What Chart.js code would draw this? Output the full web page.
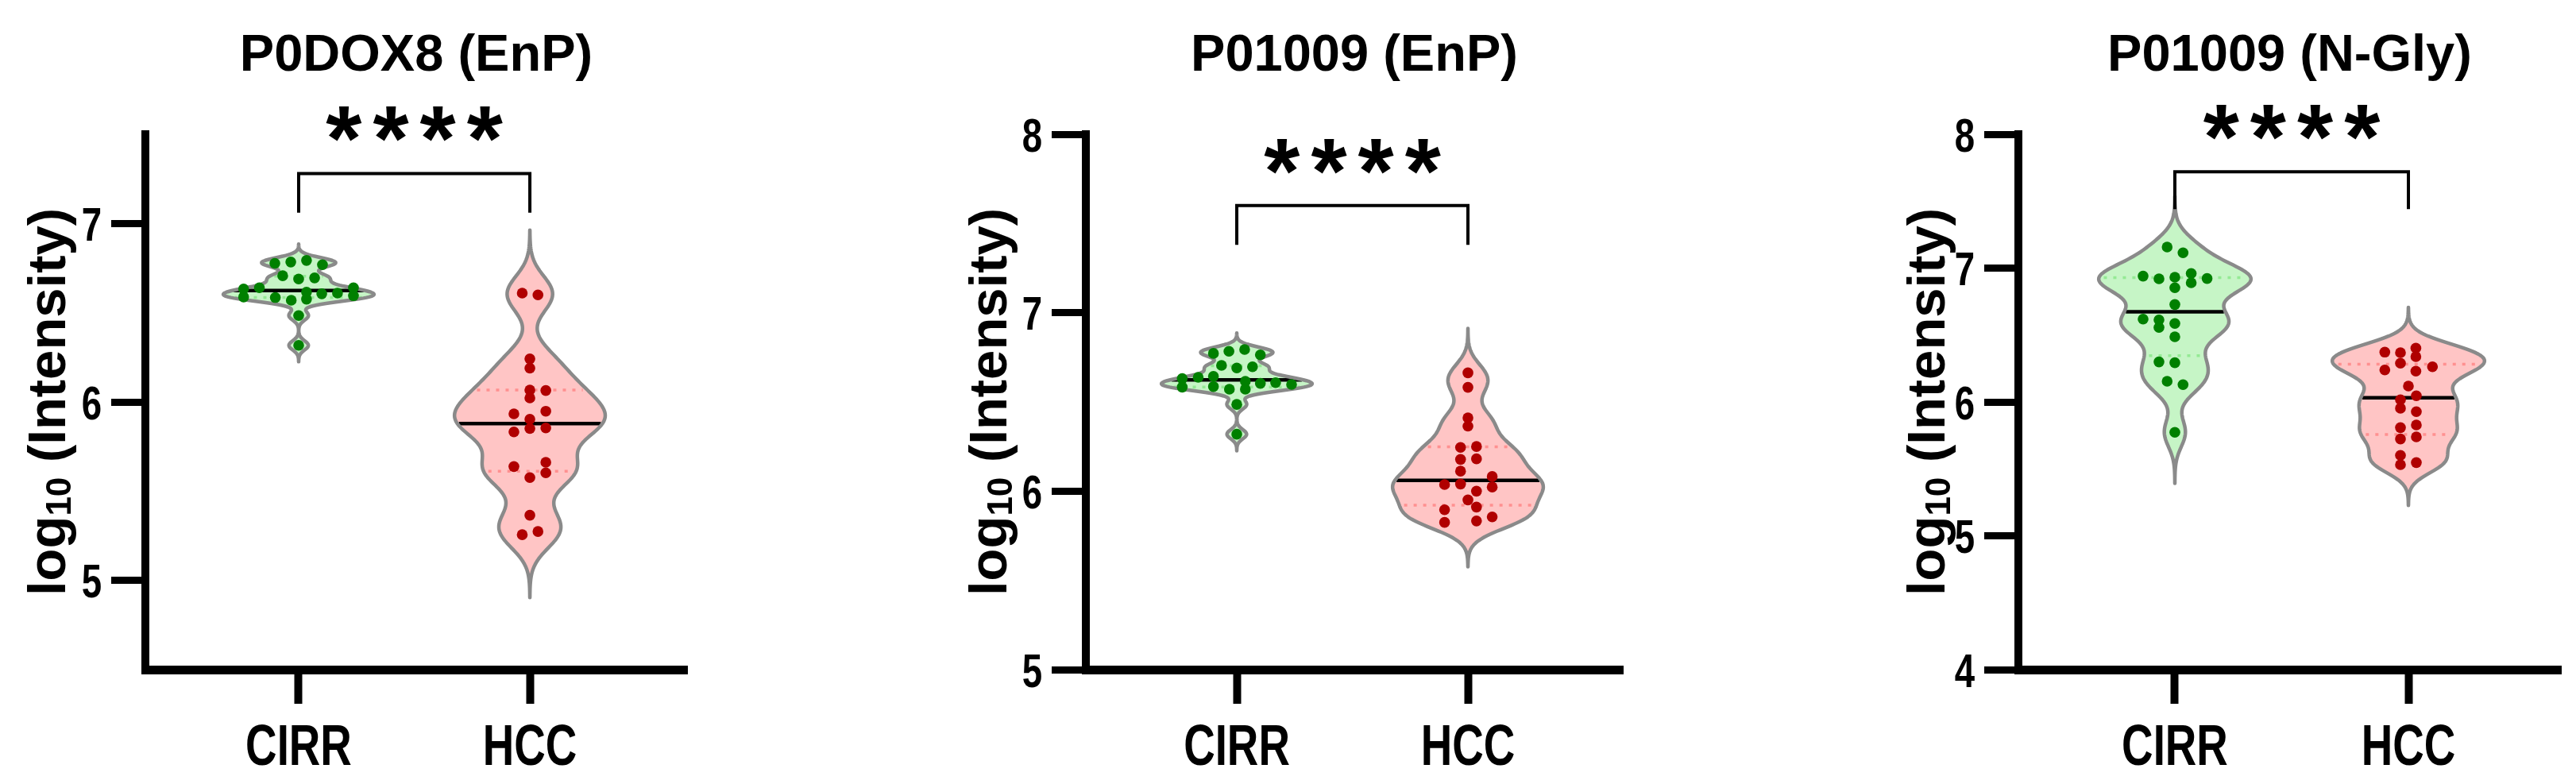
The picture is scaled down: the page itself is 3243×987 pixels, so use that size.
<!DOCTYPE html>
<html>
<head>
<meta charset="utf-8">
<script src="https://cdn.jsdelivr.net/npm/chart.js@4.4.1/dist/chart.umd.min.js"></script>
<style>
  html, body { margin: 0; padding: 0; background: #fff; }
  #wrap { position: relative; width: 3243px; height: 987px; }
  #wrap canvas { position: absolute; top: 0; }
</style>
</head>
<body>
<div id="wrap">
  <canvas id="c1" width="1081" height="987" style="left:0px"></canvas>
  <canvas id="c2" width="1081" height="987" style="left:1081px"></canvas>
  <canvas id="c3" width="1081" height="987" style="left:2162px"></canvas>
</div>
<script>
// categories + panel text
const groups = ['CIRR', 'HCC'];
const titles = ['P0DOX8 (EnP)', 'P01009 (EnP)', 'P01009 (N-Gly)'];
const stars = ['****', '****', '****'];

// y axes
const yRanges = [[4.5, 7.5], [5, 8], [4, 8]];
const yTicks = [[5, 6, 7], [5, 6, 7, 8], [4, 5, 6, 7, 8]];

// significance bracket levels (log10 units): bar, end of legs
const bracketTop = [7.28, 7.60, 7.72];
const bracketLeg = [7.06, 7.38, 7.44];

// log10 intensities, with the horizontal spread of each dot (x units)
const cirr1 = [6.777, 6.784, 6.793, 6.769, 6.707, 6.689, 6.695, 6.633, 6.588, 6.640, 6.585, 6.570, 6.615, 6.576, 6.606, 6.610, 6.640, 6.595, 6.484, 6.317];
const cirr1Jit = [-0.103, -0.034, 0.034, 0.103, -0.069, 0, 0.069, -0.238, -0.238, -0.170, -0.101, -0.032, 0.034, 0.034, 0.100, 0.168, 0.237, 0.237, 0, 0];
const hcc1 = [6.610, 6.600, 6.241, 6.189, 6.067, 6.022, 6.064, 5.933, 5.948, 5.903, 5.832, 5.851, 5.854, 5.638, 5.662, 5.603, 5.576, 5.365, 5.256, 5.274];
const hcc1Jit = [-0.033, 0.035, 0, 0, 0, 0, 0.069, -0.069, 0.069, 0, -0.069, 0, 0.069, -0.069, 0.069, 0.069, 0, 0, -0.033, 0.035];

const cirr2 = [6.772, 6.784, 6.794, 6.764, 6.705, 6.690, 6.697, 6.631, 6.583, 6.638, 6.643, 6.586, 6.571, 6.616, 6.571, 6.604, 6.608, 6.598, 6.486, 6.319];
const cirr2Jit = [-0.101, -0.034, 0.034, 0.102, -0.066, 0, 0.068, -0.236, -0.236, -0.167, -0.101, -0.101, -0.032, 0.037, 0.037, 0.102, 0.168, 0.237, 0, 0];
const hcc2 = [6.663, 6.582, 6.411, 6.364, 6.245, 6.250, 6.178, 6.181, 6.112, 6.037, 6.040, 6.082, 6.023, 6.000, 5.951, 5.911, 5.896, 5.825, 5.833, 5.856];
const hcc2Jit = [0, 0, 0, 0, -0.032, 0.037, -0.032, 0.037, -0.032, -0.101, -0.032, 0.105, 0.105, 0.037, 0, 0.037, -0.101, -0.101, 0.037, 0.105];

const cirr3 = [7.157, 7.114, 6.940, 6.920, 6.932, 6.853, 6.960, 6.890, 6.922, 6.728, 6.619, 6.613, 6.556, 6.586, 6.487, 6.299, 6.293, 6.154, 6.129, 5.773];
const cirr3Jit = [-0.033, 0.035, -0.136, -0.068, 0, 0, 0.070, 0.070, 0.138, 0, -0.136, -0.068, -0.068, 0, 0, -0.068, 0, -0.033, 0.035, 0];
const hcc3 = [6.372, 6.368, 6.402, 6.338, 6.289, 6.239, 6.230, 6.263, 6.119, 6.016, 6.046, 5.953, 5.927, 5.808, 5.828, 5.723, 5.739, 5.601, 5.531, 5.547];
const hcc3Jit = [-0.101, -0.034, 0.032, 0.032, -0.034, -0.101, 0.032, 0.103, 0, -0.034, 0.034, -0.034, 0.034, -0.034, 0.034, -0.034, 0.034, -0.034, -0.034, 0.034];

// colours
const green = '#008000', greenFill = '#c6f5c6', greenQ = '#94ea94';
const red = '#b00000', redFill = '#ffc5c5', redQ = '#ff9090';

// layout of each panel inside its canvas
const layout = [
  { yWidth: 183, padRight: 216, xMin: 0.337, xMax: 2.68, labelOff: 101 },
  { yWidth: 286, padRight: 119, xMin: 0.347, xMax: 2.67, labelOff: 100 },
  { yWidth: 379, padRight: 19, xMin: 0.33, xMax: 2.653, labelOff: 93 }
];

const SANS = '"Liberation Sans", Arial, sans-serif';
const SQUEEZE = 0.76; // tick labels are set in a condensed face
const VIOLIN_HALF = 0.326; // widest part of each violin, x units

function quantile(sorted, p) {
  const n = sorted.length;
  const r = Math.min(Math.max(p * (n + 1) - 1, 0), n - 1);
  const lo = Math.floor(r), f = r - lo;
  return sorted[lo] + f * ((sorted[Math.min(lo + 1, n - 1)]) - sorted[lo]);
}

function drawViolin(ctx, xs, ys, pos, vals, fill, qColor) {
  const n = vals.length;
  const sorted = vals.slice().sort((a, b) => a - b);
  const mean = vals.reduce((a, b) => a + b, 0) / n;
  const sd = Math.sqrt(vals.reduce((a, v) => a + (v - mean) ** 2, 0) / (n - 1));
  const q1 = quantile(sorted, 0.25), med = quantile(sorted, 0.5), q3 = quantile(sorted, 0.75);
  // kernel density, a bit tighter than Silverman's rule
  const h = 0.6 * 0.9 * Math.min(sd, (q3 - q1) / 1.34) * Math.pow(n, -0.2);
  const dens = y => vals.reduce((a, v) => a + Math.exp(-0.5 * ((y - v) / h) ** 2), 0);
  const lo = sorted[0] - 3.5 * h, hi = sorted[n - 1] + 3.5 * h;
  const steps = 200;
  const pts = [];
  let maxD = 0;
  for (let i = 0; i <= steps; i++) {
    const y = lo + (hi - lo) * i / steps;
    const d = dens(y);
    pts.push([y, d]);
    if (d > maxD) maxD = d;
  }
  const cx = xs.getPixelForValue(pos);
  const wPx = xs.getPixelForValue(pos + VIOLIN_HALF) - cx;
  const hw = y => dens(y) / maxD * wPx;

  const outline = () => {
    ctx.beginPath();
    pts.forEach(([y, d], i) => {
      const px = cx + d / maxD * wPx, py = ys.getPixelForValue(y);
      if (i) ctx.lineTo(px, py); else ctx.moveTo(px, py);
    });
    for (let i = pts.length - 1; i >= 0; i--) {
      const [y, d] = pts[i];
      ctx.lineTo(cx - d / maxD * wPx, ys.getPixelForValue(y));
    }
    ctx.closePath();
  };

  ctx.save();
  outline();
  ctx.fillStyle = fill;
  ctx.fill();

  // quartiles
  ctx.setLineDash([4, 8]);
  ctx.lineWidth = 3.5;
  ctx.strokeStyle = qColor;
  [q1, q3].forEach(v => {
    const w = hw(v) - 6, py = ys.getPixelForValue(v);
    ctx.beginPath();
    ctx.moveTo(cx - w, py);
    ctx.lineTo(cx + w, py);
    ctx.stroke();
  });
  ctx.setLineDash([]);

  // median
  const mw = hw(med) - 2, my = ys.getPixelForValue(med);
  ctx.lineWidth = 4.5;
  ctx.strokeStyle = '#000';
  ctx.beginPath();
  ctx.moveTo(cx - mw, my);
  ctx.lineTo(cx + mw, my);
  ctx.stroke();

  outline();
  ctx.lineWidth = 4.5;
  ctx.lineJoin = 'round';
  ctx.strokeStyle = '#8a8a8a';
  ctx.stroke();
  ctx.restore();
}

// condensed text: squeeze horizontally around the anchor
function squeezedText(ctx, text, x, y, align) {
  ctx.save();
  ctx.translate(x, y);
  ctx.scale(SQUEEZE, 1);
  ctx.textAlign = align;
  ctx.fillText(text, 0, 0);
  ctx.restore();
}

const violinPlugin = {
  id: 'violins',
  beforeDatasetsDraw(chart) {
    const o = chart.options.plugins.violins;
    const xs = chart.scales.x, ys = chart.scales.y;
    o.sets.forEach((s, i) => drawViolin(chart.ctx, xs, ys, i + 1, s.values, s.fill, s.quart));
  },
  afterDraw(chart) {
    const o = chart.options.plugins.violins;
    const ctx = chart.ctx, area = chart.chartArea;
    const xs = chart.scales.x, ys = chart.scales.y;
    const midX = (area.left + area.right) / 2;
    ctx.save();
    ctx.fillStyle = '#000';
    ctx.textBaseline = 'alphabetic';

    // tick labels
    ctx.font = 'bold 60px ' + SANS;
    ys.ticks.forEach(t => {
      squeezedText(ctx, String(t.value), area.left - 43 - 12, ys.getPixelForValue(t.value) + 21.5, 'right');
    });
    ctx.font = 'bold 72px ' + SANS;
    xs.ticks.forEach((t, i) => {
      squeezedText(ctx, groups[i], xs.getPixelForValue(t.value), 963, 'center');
    });

    // title
    ctx.font = 'bold 65px ' + SANS;
    ctx.textAlign = 'center';
    ctx.fillText(o.title, midX, 89);

    // y axis title with subscript
    const big = 'bold 67px ' + SANS, small = 'bold 44px ' + SANS;
    const parts = [['log', big, 0], ['10', small, 7], [' (Intensity)', big, 0]];
    let total = 0;
    parts.forEach(p => { ctx.font = p[1]; p.push(ctx.measureText(p[0]).width); total += p[3]; });
    ctx.save();
    ctx.translate(area.left - o.labelOff, (area.top + area.bottom) / 2);
    ctx.rotate(-Math.PI / 2);
    ctx.textAlign = 'left';
    let x = -total / 2;
    parts.forEach(p => { ctx.font = p[1]; ctx.fillText(p[0], x, p[2]); x += p[3]; });
    ctx.restore();

    // bracket
    const x1 = xs.getPixelForValue(1), x2 = xs.getPixelForValue(2);
    const yb = ys.getPixelForValue(o.bracket[0]), yl = ys.getPixelForValue(o.bracket[1]);
    ctx.strokeStyle = '#000';
    ctx.lineWidth = 4;
    ctx.lineJoin = 'miter';
    ctx.beginPath();
    ctx.moveTo(x1, yl);
    ctx.lineTo(x1, yb);
    ctx.lineTo(x2, yb);
    ctx.lineTo(x2, yl);
    ctx.stroke();

    // stars
    ctx.font = 'bold 116px ' + SANS;
    ctx.textAlign = 'center';
    if ('letterSpacing' in ctx) ctx.letterSpacing = '14px';
    const m = ctx.measureText(o.stars);
    const glyphMid = (m.actualBoundingBoxAscent - m.actualBoundingBoxDescent) / 2;
    ctx.fillText(o.stars, (x1 + x2) / 2 + 7, yb - 62 + glyphMid);
    ctx.restore();
  }
};

function makePanel(id, idx, cirr, cirrJit, hcc, hccJit) {
  const L = layout[idx];
  const ticksY = yTicks[idx];
  const pts = (vals, jit, pos) => vals.map((v, i) => ({ x: pos + jit[i], y: v }));
  return new Chart(document.getElementById(id), {
    type: 'scatter',
    data: {
      datasets: [
        { label: groups[0], data: pts(cirr, cirrJit, 1), backgroundColor: green, pointRadius: 6.8, borderWidth: 0 },
        { label: groups[1], data: pts(hcc, hccJit, 2), backgroundColor: red, pointRadius: 6.8, borderWidth: 0 }
      ]
    },
    options: {
      responsive: false,
      animation: false,
      events: [],
      layout: { padding: { top: 169, right: L.padRight, left: 0, bottom: 0 } },
      plugins: {
        legend: { display: false },
        tooltip: { enabled: false },
        violins: {
          title: titles[idx],
          stars: stars[idx],
          bracket: [bracketTop[idx], bracketLeg[idx]],
          labelOff: L.labelOff,
          sets: [
            { values: cirr, fill: greenFill, quart: greenQ },
            { values: hcc, fill: redFill, quart: redQ }
          ]
        }
      },
      scales: {
        x: {
          type: 'linear',
          min: L.xMin,
          max: L.xMax,
          afterBuildTicks: s => { s.ticks = groups.map((g, i) => ({ value: i + 1 })); },
          afterFit: s => { s.height = 144; },
          ticks: { display: false, callback: (v, i) => groups[i] },
          grid: { drawOnChartArea: false, drawTicks: true, tickLength: 43, tickWidth: 10, tickColor: '#000' },
          border: { display: true, width: 11, color: '#000' }
        },
        y: {
          type: 'linear',
          min: yRanges[idx][0],
          max: yRanges[idx][1],
          afterBuildTicks: s => { s.ticks = ticksY.map(v => ({ value: v })); },
          afterFit: s => { s.width = L.yWidth; },
          ticks: { display: false },
          grid: { drawOnChartArea: false, drawTicks: true, tickLength: 43, tickWidth: 9, tickColor: '#000' },
          border: { display: true, width: 10, color: '#000' }
        }
      }
    },
    plugins: [violinPlugin]
  });
}

makePanel('c1', 0, cirr1, cirr1Jit, hcc1, hcc1Jit);
makePanel('c2', 1, cirr2, cirr2Jit, hcc2, hcc2Jit);
makePanel('c3', 2, cirr3, cirr3Jit, hcc3, hcc3Jit);
</script>
</body>
</html>
